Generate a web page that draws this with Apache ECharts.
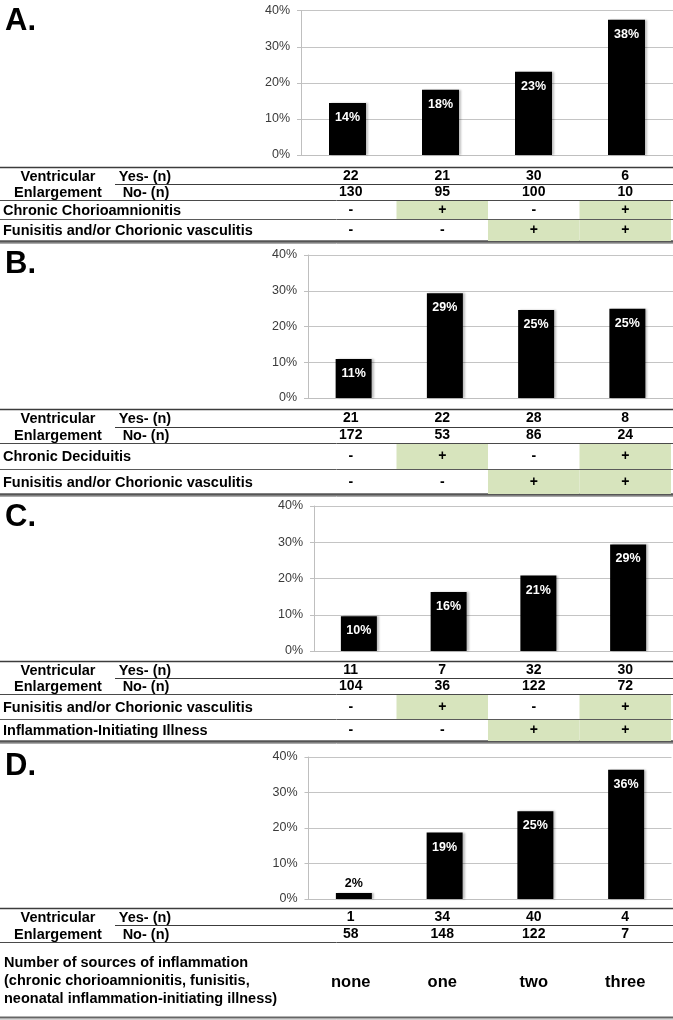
<!DOCTYPE html>
<html><head><meta charset="utf-8">
<script src="https://cdn.jsdelivr.net/npm/echarts@6/dist/echarts.min.js"></script>
<style>html,body{margin:0;padding:0;background:#fff}#c{width:673px;height:1020px}</style>
</head><body><div id="c"></div>
<script>
const FONT = "'Liberation Sans', Arial, Helvetica, sans-serif";

// ---- data ----
const groups = ['g1', 'g2', 'g3', 'g4'];
const yTicks = [0, 10, 20, 30, 40];

const pctA = [14.4, 18.1, 23.1, 37.5];
const yesA = [22, 21, 30, 6];
const noA = [130, 95, 100, 10];
const rowA1Label = 'Chronic Chorioamnionitis';
const rowA1 = ['-', '+', '-', '+'];
const rowA2Label = 'Funisitis and/or Chorionic vasculitis';
const rowA2 = ['-', '-', '+', '+'];

const pctB = [10.9, 29.3, 24.6, 25.0];
const yesB = [21, 22, 28, 8];
const noB = [172, 53, 86, 24];
const rowB1Label = 'Chronic Deciduitis';
const rowB1 = ['-', '+', '-', '+'];
const rowB2Label = 'Funisitis and/or Chorionic vasculitis';
const rowB2 = ['-', '-', '+', '+'];

const pctC = [9.6, 16.3, 20.8, 29.4];
const yesC = [11, 7, 32, 30];
const noC = [104, 36, 122, 72];
const rowC1Label = 'Funisitis and/or Chorionic vasculitis';
const rowC1 = ['-', '+', '-', '+'];
const rowC2Label = 'Inflammation-Initiating Illness';
const rowC2 = ['-', '-', '+', '+'];

const pctD = [1.7, 18.7, 24.7, 36.4];
const yesD = [1, 34, 40, 4];
const noD = [58, 148, 122, 7];
const sourcesLabel = ['Number of sources of inflammation', '(chronic chorioamnionitis, funisitis,', 'neonatal inflammation-initiating illness)'];
const sources = ['none', 'one', 'two', 'three'];

// ---- layout ----
const panels = [
  { letter: 'A.', letterY: 21, pct: pctA, yes: yesA, no: noA,
    chart: { left: 301, width: 376, top: 10.7, height: 144.3, bar: 37 },
    lines: [167, 184, 200, 219, 241],
    rows: [[rowA1Label, rowA1], [rowA2Label, rowA2]] },
  { letter: 'B.', letterY: 264, pct: pctB, yes: yesB, no: noB,
    chart: { left: 308, width: 371, top: 255, height: 143, bar: 36 },
    lines: [409, 427, 443, 469, 494],
    rows: [[rowB1Label, rowB1], [rowB2Label, rowB2]] },
  { letter: 'C.', letterY: 517, pct: pctC, yes: yesC, no: noC,
    chart: { left: 314, width: 364, top: 506, height: 145, bar: 36 },
    lines: [661, 678, 694, 719, 741],
    rows: [[rowC1Label, rowC1], [rowC2Label, rowC2]] },
  { letter: 'D.', letterY: 766, pct: pctD, yes: yesD, no: noD,
    chart: { left: 308.5, width: 363, top: 757, height: 142, bar: 36 },
    lines: [908, 925, 942, 1017],
    rows: [] }
];
const TABLE_LEFT = 305, TABLE_WIDTH = 366;
const GREEN = '#d7e4bd';
const LABEL_SIZE = 14.5;

const grid = [], xAxis = [], yAxis = [], series = [], graphic = [];
let k = 0;

function addTableRow(top, height, texts, greens, fontSize) {
  grid.push({ left: TABLE_LEFT, width: TABLE_WIDTH, top: top, height: height });
  xAxis.push({ gridIndex: k, type: 'category', data: groups, show: false });
  yAxis.push({ gridIndex: k, type: 'value', min: 0, max: 1, show: false });
  series.push({
    type: 'bar', xAxisIndex: k, yAxisIndex: k, barWidth: '100%', silent: true,
    data: texts.map((t, j) => ({
      value: 1,
      itemStyle: { color: greens && greens[j] ? GREEN : 'rgba(0,0,0,0)' },
      label: { formatter: String(t) }
    })),
    label: { show: true, position: 'inside', color: '#000', fontWeight: 'bold',
      fontSize: fontSize || 14, fontFamily: FONT }
  });
  k++;
}

function hline(x1, x2, y, w, c) {
  graphic.push({ type: 'line', silent: true,
    shape: { x1: x1, y1: y, x2: x2, y2: y },
    style: { stroke: c, lineWidth: w } });
}
function text(t, x, y, align, size, weight) {
  graphic.push({ type: 'text', silent: true,
    style: { text: t, x: x, y: y, textAlign: align, textVerticalAlign: 'middle',
      font: (weight || 'bold') + ' ' + size + 'px ' + FONT, fill: '#000' } });
}

panels.forEach((p, pi) => {
  const c = p.chart;
  grid.push({ left: c.left, width: c.width, top: c.top, height: c.height });
  xAxis.push({ gridIndex: k, type: 'category', data: groups,
    axisLine: { show: true, lineStyle: { color: '#bfbfbf', width: 1 } },
    axisTick: { show: false }, axisLabel: { show: false } });
  yAxis.push({ gridIndex: k, type: 'value', min: yTicks[0], max: yTicks[yTicks.length - 1], interval: 10,
    axisLine: { show: true, lineStyle: { color: '#bfbfbf' } },
    axisTick: { show: true, length: 4, lineStyle: { color: '#bfbfbf' } },
    splitLine: { show: true, lineStyle: { color: '#c4c4c4', width: 1 } },
    axisLabel: { formatter: '{value}%', fontSize: 12.5, color: '#3a3a3a', margin: 11, fontFamily: FONT } });
  series.push({
    type: 'bar', xAxisIndex: k, yAxisIndex: k, barWidth: c.bar, silent: true,
    itemStyle: { color: '#000', shadowColor: 'rgba(0,0,0,0.25)', shadowBlur: 2, shadowOffsetX: 2, shadowOffsetY: 0 },
    label: { show: true, position: 'insideTop', distance: 8, color: '#fff', fontWeight: 'bold',
      fontSize: 12.5, fontFamily: FONT, formatter: (d) => Math.round(d.value) + '%' },
    data: p.pct.map(v => v < 5
      ? { value: v, label: { position: 'top', color: '#000', distance: 3 } }
      : v)
  });
  k++;

  const L = p.lines;
  // panel letter
  text(p.letter, 5, p.letterY, 'left', 31, 'bold');
  // yes / no rows
  addTableRow(L[0] + 1, L[1] - L[0] - 1, p.yes, null);
  addTableRow(L[1] + 1, L[2] - L[1] - 1, p.no, null);
  text('Ventricular', 58, (L[0] + L[1]) / 2 + 1, 'center', LABEL_SIZE);
  text('Yes- (n)', 145, (L[0] + L[1]) / 2 + 1, 'center', LABEL_SIZE);
  text('Enlargement', 58, (L[1] + L[2]) / 2 + 1, 'center', LABEL_SIZE);
  text('No- (n)', 146, (L[1] + L[2]) / 2 + 1, 'center', LABEL_SIZE);
  hline(0, 673, L[0] + 0.5, 1.5, '#3c3c3c');
  hline(115, 673, L[1] + 0.5, 1, '#3c3c3c');
  hline(0, 673, L[2] + 0.5, 1, '#4a4a4a');
  if (p.rows.length) {
    p.rows.forEach((r, ri) => {
      const t = L[2 + ri], b = L[3 + ri];
      addTableRow(t + 1, b - t - 1, r[1], r[1].map(s => s === '+'));
      text(r[0], 3, (t + b) / 2 + 1, 'left', LABEL_SIZE);
    });
    hline(0, 673, L[3] + 0.5, 1, '#5a5a5a');
    hline(0, 673, L[4] + 0.5, 2.5, '#555');
    hline(0, 673, L[4] + 2.5, 1, '#aaa');
  } else {
    // panel D: sources row
    addTableRow(L[2] + 3, L[3] - L[2] - 1, sources, null, 16.5);
    text(sourcesLabel[0], 4, 963, 'left', LABEL_SIZE);
    text(sourcesLabel[1], 4, 981, 'left', LABEL_SIZE);
    text(sourcesLabel[2], 4, 999, 'left', LABEL_SIZE);
    hline(0, 673, L[3] + 0.5, 2, '#666');
    hline(0, 673, L[3] + 2, 1, '#aaa');
  }
});

const chart = echarts.init(document.getElementById('c'), null, { renderer: 'canvas' });
chart.setOption({ animation: false, backgroundColor: '#fff', grid, xAxis, yAxis, series, graphic });
</script></body></html>
